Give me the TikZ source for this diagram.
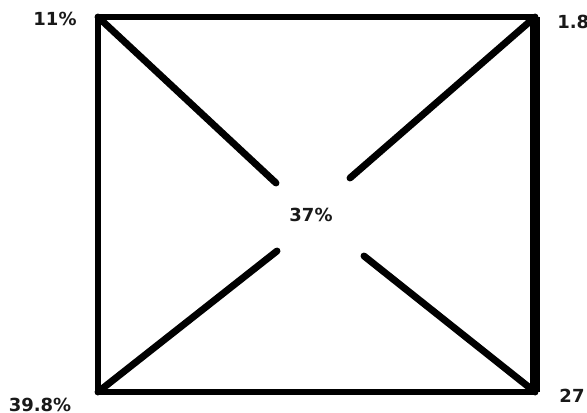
\documentclass[tikz,border=0pt]{standalone}
\usepackage{fontspec}
\setmainfont{DejaVu Sans}
\usepackage{tikz}
\usetikzlibrary{positioning}

\tikzset{
  pct/.style={font=\bfseries\fontsize{13.5}{16}\selectfont, text=black!90, inner sep=0pt},
  frameline/.style={line width=5.2pt, line cap=round, line join=round},
  crossline/.style={line width=5.2pt, line cap=round}
}

\begin{document}
\begin{tikzpicture}[x=0.75pt, y=-0.75pt]

  \useasboundingbox (0,0) rectangle (587,412);

  %% corners of the frame
  \coordinate (tl) at (98,17);
  \coordinate (tr) at (535,17);
  \coordinate (br) at (535,392);
  \coordinate (bl) at (98,392);

  %% inner ends of the four diagonal pieces
  \coordinate (tlend) at (276,183);
  \coordinate (trend) at (350,178);
  \coordinate (blend) at (277,251);
  \coordinate (brend) at (364,256);

  %% frame
  \draw[frameline] (tl) -- (tr) -- (br) -- (bl) -- cycle;
  \draw[line width=7pt] (tr) -- (br);

  %% diagonals, broken in the middle
  \foreach \a/\b in {tl/tlend, tr/trend, bl/blend, br/brend}{
    \draw[crossline] (\a) -- (\b);
  }

  %% percentages
  \node[pct] (ptl) at (55,19) {11\%};
  \node[pct, anchor=west] (ptr) at (557,22) {1.8};
  \node[pct] (pmid) at (311,215) {37\%};
  \node[pct] (pbl) at (40,405) {39.8\%};
  \node[pct] (pbr) at (572,396) {27};

\end{tikzpicture}
\end{document}
